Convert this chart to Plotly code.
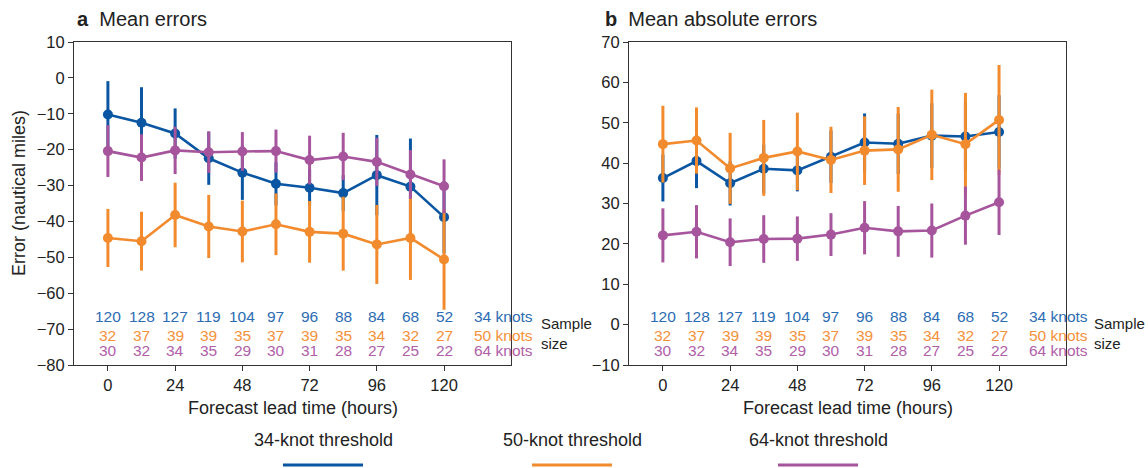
import plotly.graph_objects as go

W, H = 1148, 468

lead_hours = [0, 12, 24, 36, 48, 60, 72, 84, 96, 108, 120]
x_tick_vals = [0, 24, 48, 72, 96, 120]

# Panel a: mean errors
me_34 = [-10.2, -12.5, -15.5, -22.4, -26.4, -29.5, -30.6, -32.1, -27.1, -30.3, -38.8]
me_34_err = [9.3, 9.9, 7.0, 7.4, 7.6, 6.0, 5.0, 5.0, 11.2, 13.4, 10.0]
me_50 = [-44.6, -45.5, -38.2, -41.4, -42.8, -40.8, -42.9, -43.4, -46.4, -44.6, -50.6]
me_50_err = [8.1, 8.2, 9.0, 8.8, 8.6, 8.6, 8.6, 10.3, 11.0, 11.7, 14.0]
me_64 = [-20.4, -22.2, -20.2, -20.7, -20.5, -20.4, -22.9, -21.9, -23.4, -26.9, -30.2]
me_64_err = [7.2, 6.5, 6.6, 5.8, 5.4, 6.0, 6.8, 6.6, 6.7, 6.8, 7.5]

# Panel b: mean absolute errors
mae_34 = [36.3, 40.5, 35.0, 38.6, 38.2, 41.6, 45.1, 44.8, 46.8, 46.6, 47.7]
mae_34_err = [5.8, 6.7, 5.5, 6.0, 5.2, 6.5, 7.2, 7.5, 8.0, 8.5, 9.1]
mae_50 = [44.7, 45.6, 38.7, 41.3, 42.9, 40.8, 43.1, 43.4, 47.0, 44.7, 50.7]
mae_50_err = [9.5, 8.2, 8.8, 9.4, 9.6, 8.2, 8.5, 10.5, 11.2, 12.7, 13.6]
mae_64 = [22.1, 23.0, 20.4, 21.2, 21.3, 22.3, 24.0, 23.1, 23.3, 27.0, 30.3]
mae_64_err = [6.7, 6.6, 5.9, 5.9, 5.5, 5.3, 6.6, 6.3, 6.7, 7.2, 8.1]

n_34 = [120, 128, 127, 119, 104, 97, 96, 88, 84, 68, 52]
n_50 = [32, 37, 39, 39, 35, 37, 39, 35, 34, 32, 27]
n_64 = [30, 32, 34, 35, 29, 30, 31, 28, 27, 25, 22]

series_names = ["34-knot threshold", "50-knot threshold", "64-knot threshold"]
row_labels = ["34 knots", "50 knots", "64 knots"]
colors = ["#0b56a2", "#f28a2e", "#a6559d"]
text_colors = ["#2c6cb3", "#f5913a", "#b060a8"]

FONT = "Liberation Sans, Arial, Helvetica, sans-serif"
DARK = "#222222"

fig = go.Figure()

def px_x(p):
    return p / W

def px_y(p):
    return 1 - p / H

dom_a = [px_x(74), px_x(511)]
dom_b = [px_x(629), px_x(1066)]
dom_y = [px_y(365), px_y(42)]

panels = [
    ("x", "y", [me_34, me_50, me_64], [me_34_err, me_50_err, me_64_err]),
    ("x2", "y2", [mae_34, mae_50, mae_64], [mae_34_err, mae_50_err, mae_64_err]),
]

for xa, ya, vals, errs in panels:
    for i in range(3):
        fig.add_trace(go.Scatter(
            x=lead_hours, y=vals[i], mode="lines+markers",
            xaxis=xa, yaxis=ya, name=series_names[i], showlegend=False,
            line=dict(color=colors[i], width=2.6),
            marker=dict(color=colors[i], size=10),
            error_y=dict(type="data", array=errs[i], visible=True,
                         thickness=3, width=0, color=colors[i]),
            cliponaxis=False,
        ))

axis_common = dict(
    showgrid=False, zeroline=False, showline=True, linecolor="#333333",
    linewidth=1, mirror=True, ticks="outside", ticklen=5, tickwidth=1,
    tickcolor="#333333", tickfont=dict(family=FONT, size=16.5, color=DARK),
    automargin=False,
)

fig.update_layout(
    width=W, height=H,
    margin=dict(l=0, r=0, t=0, b=0, autoexpand=False),
    paper_bgcolor="white", plot_bgcolor="white",
    showlegend=False,
    font=dict(family=FONT, color=DARK),
    xaxis=dict(domain=dom_a, range=[-12.1, 143.9], tickvals=x_tick_vals,
               anchor="y", **axis_common),
    yaxis=dict(domain=dom_y, range=[-80, 10], dtick=10, anchor="x", **axis_common),
    xaxis2=dict(domain=dom_b, range=[-12.1, 143.9], tickvals=x_tick_vals,
                anchor="y2", **axis_common),
    yaxis2=dict(domain=dom_y, range=[-10, 70], dtick=10, anchor="x2", **axis_common),
)

ann = []
# Titles
ann.append(dict(text="<b>a</b>  Mean errors", xref="paper", yref="paper",
                x=px_x(75), y=px_y(19), xanchor="left", yanchor="middle",
                showarrow=False, font=dict(family=FONT, size=20, color=DARK)))
ann.append(dict(text="<b>b</b>  Mean absolute errors", xref="paper", yref="paper",
                x=px_x(603), y=px_y(19), xanchor="left", yanchor="middle",
                showarrow=False, font=dict(family=FONT, size=20, color=DARK)))
# Axis titles
ann.append(dict(text="Error (nautical miles)", xref="paper", yref="paper",
                x=px_x(19), y=px_y(193), textangle=-90, xanchor="center",
                yanchor="middle", showarrow=False,
                font=dict(family=FONT, size=18, color=DARK)))
for xc in [(74 + 511) / 2, (629 + 1066) / 2]:
    ann.append(dict(text="Forecast lead time (hours)", xref="paper", yref="paper",
                    x=px_x(xc), y=px_y(408), xanchor="center", yanchor="middle",
                    showarrow=False, font=dict(family=FONT, size=18, color=DARK)))

# Sample sizes
row_y = [316.5, 335.5, 350.5]
counts = [n_34, n_50, n_64]
for xa, sample_x in [("x", 539), ("x2", 1092)]:
    for r in range(3):
        for h, n in zip(lead_hours, counts[r]):
            ann.append(dict(text=str(n), xref=xa, yref="paper", x=h, y=px_y(row_y[r]),
                            xanchor="center", yanchor="middle", showarrow=False,
                            font=dict(family=FONT, size=15.5, color=text_colors[r])))
        ann.append(dict(text=row_labels[r], xref=xa, yref="paper", x=130, y=px_y(row_y[r]),
                        xanchor="left", yanchor="middle", showarrow=False,
                        font=dict(family=FONT, size=15.5, color=text_colors[r])))
    ann.append(dict(text="Sample<br>size", xref="paper", yref="paper",
                    x=px_x(sample_x), y=px_y(333), xanchor="left", yanchor="middle",
                    align="left", showarrow=False,
                    font=dict(family=FONT, size=15, color=DARK)))

# Legend (text above coloured line)
leg_centers = [323, 572, 818]
for i in range(3):
    ann.append(dict(text=series_names[i], xref="paper", yref="paper",
                    x=px_x(leg_centers[i]), y=px_y(440), xanchor="center",
                    yanchor="middle", showarrow=False,
                    font=dict(family=FONT, size=18, color=DARK)))
    fig.add_shape(type="line", xref="paper", yref="paper",
                  x0=px_x(leg_centers[i] - 40), x1=px_x(leg_centers[i] + 40),
                  y0=px_y(465), y1=px_y(465),
                  line=dict(color=colors[i], width=3))

fig.update_layout(annotations=ann)

fig.write_html("out.html",
               config={"displayModeBar": False},
               post_script="document.body.style.margin='0px';"
                           "document.body.style.overflow='hidden';")
